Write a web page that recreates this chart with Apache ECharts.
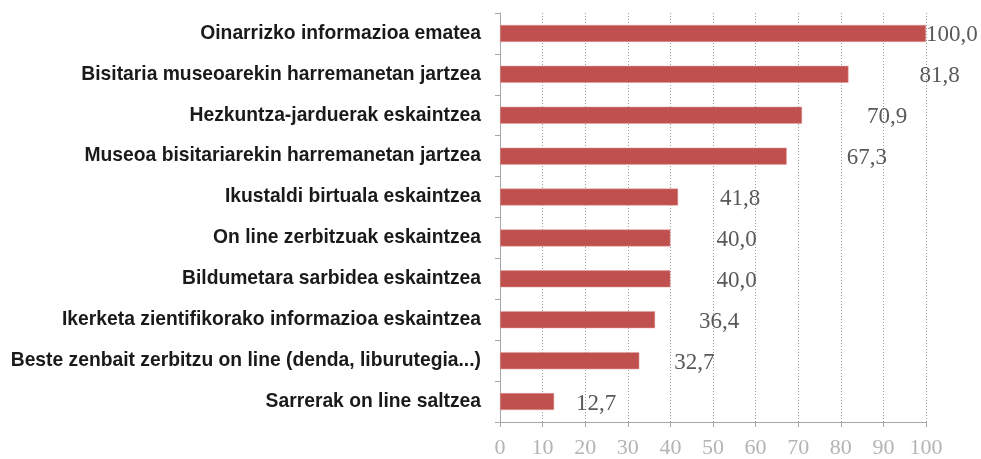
<!DOCTYPE html>
<html>
<head>
<meta charset="utf-8">
<script src="https://cdn.jsdelivr.net/npm/echarts@6/dist/echarts.min.js"></script>
<style>
  html, body { margin: 0; padding: 0; background: #fff; }
  #main { width: 981px; height: 459px; }
</style>
</head>
<body>
<div id="main"></div>
<script>
// kategoriak (goitik behera)
var categories = [
  'Oinarrizko informazioa ematea',
  'Bisitaria museoarekin harremanetan jartzea',
  'Hezkuntza-jarduerak eskaintzea',
  'Museoa bisitariarekin harremanetan jartzea',
  'Ikustaldi birtuala eskaintzea',
  'On line zerbitzuak eskaintzea',
  'Bildumetara sarbidea eskaintzea',
  'Ikerketa zientifikorako informazioa eskaintzea',
  'Beste zenbait zerbitzu on line (denda, liburutegia...)',
  'Sarrerak on line saltzea'
];
var values = [100.0, 81.8, 70.9, 67.3, 41.8, 40.0, 40.0, 36.4, 32.7, 12.7];
var xTicks = [0, 10, 20, 30, 40, 50, 60, 70, 80, 90, 100];

// etiketen tartea barraren amaieratik (px)
var labelGap = [0, 71, 65, 60, 42, 46, 46, 44, 35, 22];

var chart = echarts.init(document.getElementById('main'));

var seriesData = values.map(function (v, i) {
  return {
    value: v,
    label: { distance: labelGap[i] }
  };
});

chart.setOption({
  animation: false,
  grid: { left: 500, right: 55, top: 13, bottom: 37, outerBoundsMode: 'none', containLabel: false },
  xAxis: {
    type: 'value',
    min: xTicks[0],
    max: xTicks[xTicks.length - 1],
    interval: 10,
    axisLine: { show: true, lineStyle: { color: '#a6a6a6', width: 1 } },
    axisTick: { show: true, length: 5, lineStyle: { color: '#a6a6a6' } },
    axisLabel: {
      color: '#b4b4b4',
      fontFamily: 'Liberation Serif',
      fontSize: 22,
      margin: 15
    },
    splitLine: { show: true, lineStyle: { color: '#9a9a9a', type: [1, 2], width: 1 } }
  },
  yAxis: {
    type: 'category',
    data: categories,
    inverse: true,
    axisLine: { show: true, lineStyle: { color: '#a6a6a6', width: 1 } },
    axisTick: { show: true, length: 5, lineStyle: { color: '#a6a6a6' } },
    axisLabel: {
      color: '#1a1a1a',
      fontFamily: 'Liberation Sans, Arial',
      fontWeight: 'bold',
      fontSize: 19.3,
      margin: 19
    }
  },
  series: [{
    type: 'bar',
    data: seriesData,
    barWidth: 17,
    itemStyle: { color: '#c0504d', borderColor: '#e0a09e', borderWidth: 0.5 },
    label: {
      show: true,
      position: 'right',
      color: '#595959',
      fontFamily: 'Liberation Serif',
      fontSize: 23,
      offset: [0, 2],
      formatter: function (p) { return p.value.toFixed(1).replace('.', ','); }
    }
  }]
});
</script>
</body>
</html>
